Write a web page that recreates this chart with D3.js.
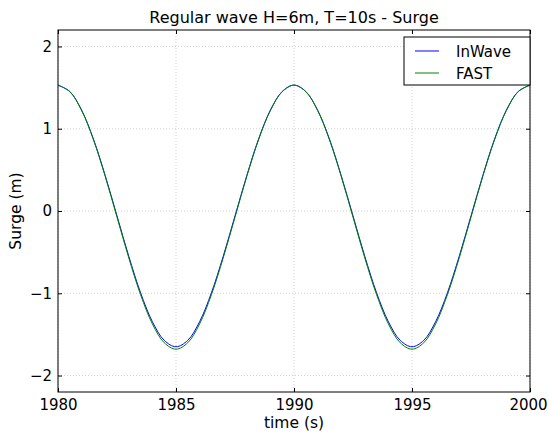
<!DOCTYPE html>
<html>
<head>
<meta charset="utf-8">
<script src="https://cdn.jsdelivr.net/npm/d3@7"></script>
<style>
  html, body { margin: 0; padding: 0; background: #fff; }
  svg { display: block; font-family: "DejaVu Sans", sans-serif; }
</style>
</head>
<body>
<svg id="chart" width="548" height="433"></svg>
<script>
// Sample times (s), every 0.5 s
const time = [
  1980, 1980.5, 1981, 1981.5, 1982, 1982.5, 1983, 1983.5, 1984, 1984.5,
  1985, 1985.5, 1986, 1986.5, 1987, 1987.5, 1988, 1988.5, 1989, 1989.5,
  1990, 1990.5, 1991, 1991.5, 1992, 1992.5, 1993, 1993.5, 1994, 1994.5,
  1995, 1995.5, 1996, 1996.5, 1997, 1997.5, 1998, 1998.5, 1999, 1999.5, 2000
];

// Surge from InWave (m)
const inwave = [
  1.530, 1.452, 1.226, 0.875, 0.431, -0.060, -0.551, -0.995, -1.346, -1.572,
  -1.650, -1.572, -1.346, -0.995, -0.551, -0.060, 0.431, 0.875, 1.226, 1.452,
  1.530, 1.452, 1.226, 0.875, 0.431, -0.060, -0.551, -0.995, -1.346, -1.572,
  -1.650, -1.572, -1.346, -0.995, -0.551, -0.060, 0.431, 0.875, 1.226, 1.452, 1.530
];

// Surge from FAST (m)
const fast = [
  1.530, 1.451, 1.223, 0.868, 0.421, -0.075, -0.571, -1.018, -1.373, -1.601,
  -1.680, -1.601, -1.373, -1.018, -0.571, -0.075, 0.421, 0.868, 1.223, 1.451,
  1.530, 1.451, 1.223, 0.868, 0.421, -0.075, -0.571, -1.018, -1.373, -1.601,
  -1.680, -1.601, -1.373, -1.018, -0.571, -0.075, 0.421, 0.868, 1.223, 1.451, 1.530
];

const xTicks = [1980, 1985, 1990, 1995, 2000];
const yTicks = [-2, -1, 0, 1, 2];
const seriesNames = ["InWave", "FAST"];
const seriesColors = ["#0000ff", "#008000"];

const margin = { left: 58, right: 18, top: 30, bottom: 41 };
const W = 548, H = 433;
const iw = W - margin.left - margin.right;
const ih = H - margin.top - margin.bottom;

const svg = d3.select("#chart");
const g = svg.append("g").attr("transform", `translate(${margin.left},${margin.top})`);

const x = d3.scaleLinear().domain([1980, 2000]).range([0, iw]);
const y = d3.scaleLinear().domain([-2.2, 2.2]).range([ih, 0]);

// Dotted grid at the major ticks
g.append("g").selectAll("line").data(xTicks).join("line")
  .attr("x1", d => x(d)).attr("x2", d => x(d)).attr("y1", 0).attr("y2", ih)
  .attr("stroke", "#000").attr("stroke-opacity", 0.3).attr("stroke-width", 0.6)
  .attr("stroke-dasharray", "1,2");
g.append("g").selectAll("line").data(yTicks).join("line")
  .attr("y1", d => y(d)).attr("y2", d => y(d)).attr("x1", 0).attr("x2", iw)
  .attr("stroke", "#000").attr("stroke-opacity", 0.3).attr("stroke-width", 0.6)
  .attr("stroke-dasharray", "1,2");

// Series
const line = d3.line().curve(d3.curveCatmullRom.alpha(0.5))
  .x((d, i) => x(time[i])).y(d => y(d));
[inwave, fast].forEach((s, k) => {
  g.append("path").datum(s).attr("d", line)
    .attr("fill", "none").attr("stroke", seriesColors[k]).attr("stroke-width", 1);
});

// Axes with inward ticks on all four sides
const styleAxis = sel => {
  sel.select(".domain").remove();
  sel.selectAll("text").attr("font-family", "DejaVu Sans, sans-serif").attr("font-size", 15).attr("fill", "#000");
  sel.selectAll(".tick line").attr("stroke", "#000");
};
const xAxisG = g.append("g").attr("transform", `translate(0,${ih})`)
  .call(d3.axisBottom(x).tickValues(xTicks).tickFormat(d3.format("d")).tickSizeInner(-4).tickPadding(7))
  .call(styleAxis);
// keep the last label inside the page edge
xAxisG.selectAll(".tick text").filter(d => d === xTicks[xTicks.length - 1]).attr("dx", -2);
g.append("g").call(d3.axisTop(x).tickValues(xTicks).tickSizeInner(-4).tickFormat(""))
  .call(styleAxis);
g.append("g")
  .call(d3.axisLeft(y).tickValues(yTicks).tickFormat(d => d < 0 ? "\u2212" + Math.abs(d) : d).tickSizeInner(-4).tickPadding(6))
  .call(styleAxis);
g.append("g").attr("transform", `translate(${iw},0)`)
  .call(d3.axisRight(y).tickValues(yTicks).tickSizeInner(-4).tickFormat(""))
  .call(styleAxis);

// Frame
g.append("rect").attr("width", iw).attr("height", ih)
  .attr("fill", "none").attr("stroke", "#000").attr("stroke-width", 1);

// Title and axis labels
svg.append("text").attr("x", margin.left + iw / 2).attr("y", 23)
  .attr("text-anchor", "middle").attr("font-size", 16).text("Regular wave H=6m, T=10s - Surge");
svg.append("text").attr("x", margin.left + iw / 2).attr("y", 428)
  .attr("text-anchor", "middle").attr("font-size", 15.5).text("time (s)");
svg.append("text").attr("transform", `translate(21,${margin.top + ih / 2}) rotate(-90)`)
  .attr("text-anchor", "middle").attr("font-size", 15.5).text("Surge (m)");

// Legend
const lg = g.append("g").attr("transform", `translate(${iw - 126},${7})`);
lg.append("rect").attr("width", 126).attr("height", 48)
  .attr("fill", "#fff").attr("stroke", "#000").attr("stroke-width", 1);
seriesNames.forEach((name, k) => {
  const yy = 14 + k * 22;
  lg.append("line").attr("x1", 11).attr("x2", 35).attr("y1", yy).attr("y2", yy)
    .attr("stroke", seriesColors[k]).attr("stroke-width", 1);
  lg.append("text").attr("x", 52).attr("y", yy + 5.5).attr("font-size", 15).text(name);
});
</script>
</body>
</html>
